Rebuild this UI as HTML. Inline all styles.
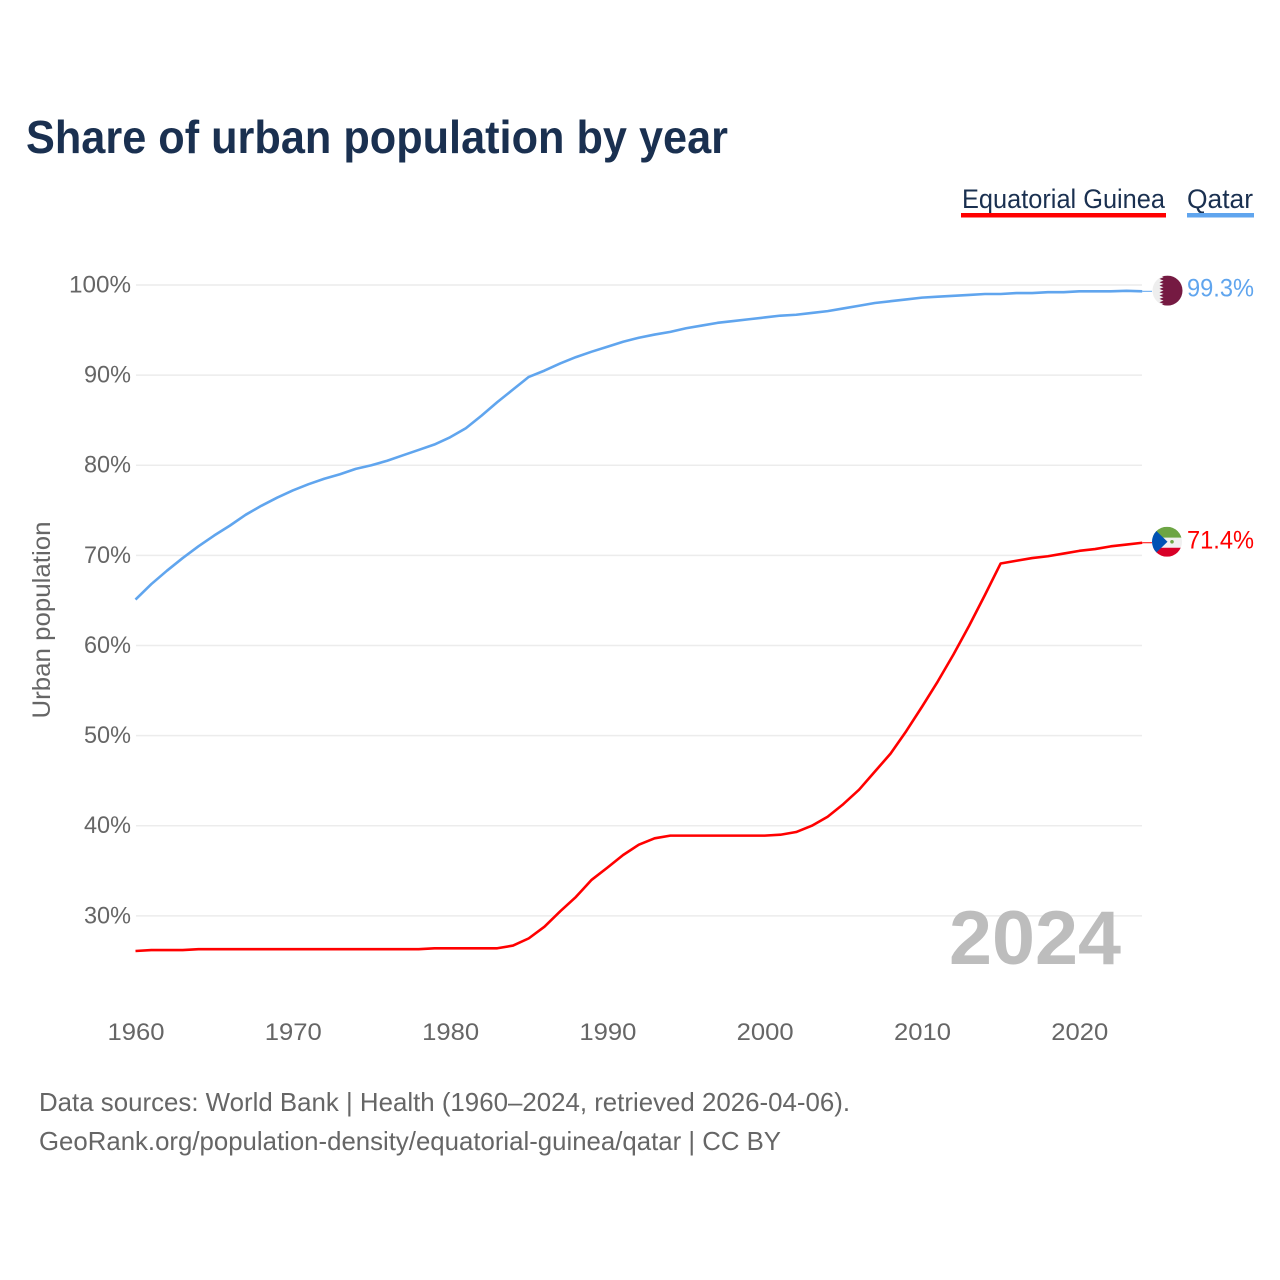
<!DOCTYPE html>
<html lang="en">
<head>
<meta charset="utf-8">
<title>Share of urban population by year</title>
<style>
html,body{margin:0;padding:0;background:#fff;width:1280px;height:1280px;overflow:hidden}
svg{display:block}
text{font-family:"Liberation Sans",sans-serif}
</style>
</head>
<body>
<svg id="chart" width="1280" height="1280" viewBox="0 0 1280 1280" xmlns="http://www.w3.org/2000/svg">
  <defs>
    <clipPath id="flag-clip"><circle cx="0" cy="0" r="15"></circle></clipPath>
  </defs>
  <rect width="1280" height="1280" fill="#ffffff"></rect>
  <text x="26" y="153" font-size="46" font-weight="700" fill="#1a3050" textLength="702" lengthAdjust="spacingAndGlyphs">Share of urban population by year</text>

  <g>
    <g>
      <text x="962" y="208" font-size="27" fill="#1a3050" textLength="203" lengthAdjust="spacingAndGlyphs">Equatorial Guinea</text>
      <rect x="961" y="213" width="205" height="4.5" fill="#ff0000"></rect>
    </g>
    <g>
      <text x="1187" y="208" font-size="27" fill="#1a3050" textLength="66" lengthAdjust="spacingAndGlyphs">Qatar</text>
      <rect x="1187" y="213" width="67" height="4.5" fill="#60a5ee"></rect>
    </g>
  </g>

  <g id="grid"></g>
  <g id="y-axis"></g>
  <g id="x-axis"></g>

  <text transform="translate(50,620) rotate(-90)" text-anchor="middle" font-size="25" fill="#666666" textLength="197" lengthAdjust="spacingAndGlyphs">Urban population</text>

  <text x="949" y="964" font-size="76" font-weight="700" fill="#bdbdbd" textLength="172" lengthAdjust="spacingAndGlyphs">2024</text>

  <g id="series"></g>

  <g id="flag-qatar">
    <g clip-path="url(#flag-clip)">
      <rect x="-15" y="-15" width="30" height="30" fill="#eeeeee"></rect>
      <polygon fill="#751a42" points="15,-15 -8,-15 -4,-13.3 -8,-11.7 -4,-10 -8,-8.3 -4,-6.7 -8,-5 -4,-3.3 -8,-1.7 -4,0 -8,1.7 -4,3.3 -8,5 -4,6.7 -8,8.3 -4,10 -8,11.7 -4,13.3 -8,15 15,15"></polygon>
    </g>
  </g>
  <g id="flag-eg">
    <g clip-path="url(#flag-clip)">
      <rect x="-15" y="-15" width="30" height="11" fill="#6da544"></rect>
      <rect x="-15" y="-4" width="30" height="10" fill="#f0f0f0"></rect>
      <rect x="-15" y="6" width="30" height="9" fill="#d80027"></rect>
      <polygon points="-15,-15 0.5,0 -15,15" fill="#0052b4"></polygon>
      <circle cx="5" cy="0" r="1.8" fill="#6da544"></circle>
    </g>
  </g>

  <g id="end-labels"></g>

  <text x="39" y="1111" font-size="26" fill="#666666" textLength="811" lengthAdjust="spacingAndGlyphs">Data sources: World Bank | Health (1960–2024, retrieved 2026-04-06).</text>
  <text x="39" y="1150" font-size="26" fill="#666666" textLength="742" lengthAdjust="spacingAndGlyphs">GeoRank.org/population-density/equatorial-guinea/qatar | CC BY</text>
</svg>

<script>
const years = [1960,1961,1962,1963,1964,1965,1966,1967,1968,1969,1970,1971,1972,1973,1974,1975,1976,1977,1978,1979,1980,1981,1982,1983,1984,1985,1986,1987,1988,1989,1990,1991,1992,1993,1994,1995,1996,1997,1998,1999,2000,2001,2002,2003,2004,2005,2006,2007,2008,2009,2010,2011,2012,2013,2014,2015,2016,2017,2018,2019,2020,2021,2022,2023,2024];
const qatarValues = [65.1,66.8,68.3,69.7,71.0,72.2,73.3,74.5,75.5,76.4,77.2,77.9,78.5,79.0,79.6,80.0,80.5,81.1,81.7,82.3,83.1,84.1,85.5,87.0,88.4,89.8,90.5,91.3,92.0,92.6,93.15,93.7,94.15,94.5,94.8,95.2,95.5,95.8,96.0,96.2,96.4,96.6,96.7,96.9,97.1,97.4,97.7,98.0,98.2,98.4,98.6,98.7,98.8,98.9,99.0,99.0,99.1,99.1,99.2,99.2,99.3,99.3,99.3,99.35,99.3];
const guineaValues = [26.1,26.2,26.2,26.2,26.3,26.3,26.3,26.3,26.3,26.3,26.3,26.3,26.3,26.3,26.3,26.3,26.3,26.3,26.3,26.4,26.4,26.4,26.4,26.4,26.7,27.5,28.8,30.5,32.1,34.0,35.35,36.75,37.9,38.6,38.9,38.9,38.9,38.9,38.9,38.9,38.9,39.0,39.3,40.0,41.0,42.4,44.0,46.0,48.0,50.5,53.2,56.0,59.0,62.2,65.6,69.1,69.4,69.7,69.9,70.2,70.5,70.7,71.0,71.2,71.4];
const yTicks = [30,40,50,60,70,80,90,100];
const xTicks = [1960,1970,1980,1990,2000,2010,2020];

const NS = 'http://www.w3.org/2000/svg';
const xScale = function (year) { return 135.5 + (year - 1960) * 15.73; };
const yScale = function (value) { return 285 + (100 - value) * 9.012; };

const gridGroup = document.getElementById('grid');
const yGroup = document.getElementById('y-axis');
const xGroup = document.getElementById('x-axis');
const seriesGroup = document.getElementById('series');
const labelGroup = document.getElementById('end-labels');

yTicks.forEach(function (tick) {
  const line = document.createElementNS(NS, 'line');
  
  
  line.setAttribute('x1', 136);
  line.setAttribute('x2', 1142);
  line.setAttribute('y1', yScale(tick));
  line.setAttribute('y2', yScale(tick));
  line.setAttribute('stroke', '#ececec');
  line.setAttribute('stroke-width', '1.5');
  gridGroup.appendChild(line);

  const label = document.createElementNS(NS, 'text');
  
  
  label.setAttribute('x', 131);
  label.setAttribute('y', yScale(tick) + 7.5);
  label.setAttribute('text-anchor', 'end');
  label.setAttribute('font-size', '24');
  label.setAttribute('fill', '#666666');
  label.setAttribute('textLength', tick === 100 ? 62 : 47);
  label.setAttribute('lengthAdjust', 'spacingAndGlyphs');
  label.textContent = tick + '%';
  yGroup.appendChild(label);
});

xTicks.forEach(function (tick) {
  const label = document.createElementNS(NS, 'text');
  
  
  label.setAttribute('x', xScale(tick) + 0.5);
  label.setAttribute('y', 1040);
  label.setAttribute('text-anchor', 'middle');
  label.setAttribute('font-size', '24');
  label.setAttribute('fill', '#666666');
  label.setAttribute('textLength', 57);
  label.setAttribute('lengthAdjust', 'spacingAndGlyphs');
  label.textContent = tick;
  xGroup.appendChild(label);
});

const linePoints = function (values) {
  return values.map(function (v, i) { return xScale(years[i]).toFixed(2) + ',' + yScale(v).toFixed(2); }).join(' ');
};

const qatarLine = document.createElementNS(NS, 'polyline');


qatarLine.setAttribute('points', linePoints(qatarValues));
qatarLine.setAttribute('fill', 'none');
qatarLine.setAttribute('stroke', '#60a5ee');
qatarLine.setAttribute('stroke-width', '2.6');
qatarLine.setAttribute('stroke-linejoin', 'round');
seriesGroup.appendChild(qatarLine);

const guineaLine = document.createElementNS(NS, 'polyline');


guineaLine.setAttribute('points', linePoints(guineaValues));
guineaLine.setAttribute('fill', 'none');
guineaLine.setAttribute('stroke', '#ff0000');
guineaLine.setAttribute('stroke-width', '2.6');
guineaLine.setAttribute('stroke-linejoin', 'round');
seriesGroup.appendChild(guineaLine);

const lastQatar = qatarValues[qatarValues.length - 1];
const lastGuinea = guineaValues[guineaValues.length - 1];
const lastX = xScale(years[years.length - 1]);

const qatarLeader = document.createElementNS(NS, 'line');


qatarLeader.setAttribute('x1', lastX);
qatarLeader.setAttribute('x2', 1152);
qatarLeader.setAttribute('y1', yScale(lastQatar));
qatarLeader.setAttribute('y2', yScale(lastQatar));
qatarLeader.setAttribute('stroke', '#60a5ee');
qatarLeader.setAttribute('stroke-width', '1');
seriesGroup.appendChild(qatarLeader);

const guineaLeader = document.createElementNS(NS, 'line');


guineaLeader.setAttribute('x1', lastX);
guineaLeader.setAttribute('x2', 1152);
guineaLeader.setAttribute('y1', yScale(lastGuinea));
guineaLeader.setAttribute('y2', yScale(lastGuinea));
guineaLeader.setAttribute('stroke', '#ff0000');
guineaLeader.setAttribute('stroke-width', '1');
seriesGroup.appendChild(guineaLeader);

document.getElementById('flag-qatar').setAttribute('transform', 'translate(1167.5,' + (yScale(lastQatar) - 0.7) + ')');
document.getElementById('flag-eg').setAttribute('transform', 'translate(1167,' + (yScale(lastGuinea) - 1) + ')');

const qatarLabel = document.createElementNS(NS, 'text');


qatarLabel.setAttribute('x', 1187);
qatarLabel.setAttribute('y', yScale(lastQatar) + 5);
qatarLabel.setAttribute('font-size', '25');
qatarLabel.setAttribute('fill', '#60a5ee');
qatarLabel.setAttribute('textLength', 67);
qatarLabel.setAttribute('lengthAdjust', 'spacingAndGlyphs');
qatarLabel.textContent = lastQatar.toFixed(1) + '%';
labelGroup.appendChild(qatarLabel);

const guineaLabel = document.createElementNS(NS, 'text');


guineaLabel.setAttribute('x', 1187);
guineaLabel.setAttribute('y', yScale(lastGuinea) + 6);
guineaLabel.setAttribute('font-size', '25');
guineaLabel.setAttribute('fill', '#ff0000');
guineaLabel.setAttribute('textLength', 67);
guineaLabel.setAttribute('lengthAdjust', 'spacingAndGlyphs');
guineaLabel.textContent = lastGuinea.toFixed(1) + '%';
labelGroup.appendChild(guineaLabel);
</script>
</body>
</html>
